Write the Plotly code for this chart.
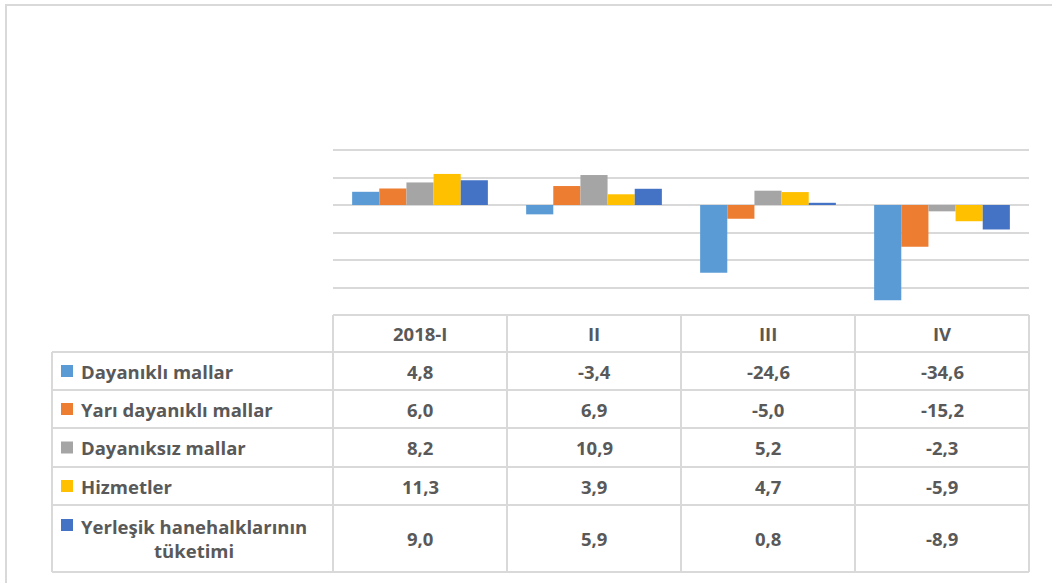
import plotly.graph_objects as go

categories = ["2018-I", "II", "III", "IV"]
series_names = ["Dayanıklı mallar", "Yarı dayanıklı mallar", "Dayanıksız mallar",
                "Hizmetler", "Yerleşik hanehalklarının<br>tüketimi"]
dayanikli = [4.8, -3.4, -24.6, -34.6]
yari_dayanikli = [6.0, 6.9, -5.0, -15.2]
dayaniksiz = [8.2, 10.9, 5.2, -2.3]
hizmetler = [11.3, 3.9, 4.7, -5.9]
yerlesik = [9.0, 5.9, 0.8, -8.9]
series_values = [dayanikli, yari_dayanikli, dayaniksiz, hizmetler, yerlesik]
colors = ["#5B9BD5", "#ED7D31", "#A5A5A5", "#FFC000", "#4472C4"]

W, H = 1052, 583
def px(x): return x / W
def py(y): return 1 - y / H

# layout geometry (pixels)
plot_left, plot_right = 333, 1029
plot_top, plot_bottom = 148.9, 315
label_left = 52
row_edges = [315, 352, 390, 428, 467, 505, 572]
GRID = "#D9D9D9"
TXT = "#595959"
FONT = "Open Sans"
FS = 18.5

fig = go.Figure()
for name, vals, c in zip(series_names, series_values, colors):
    fig.add_trace(go.Bar(x=categories, y=vals, name=name.replace("<br>", " "),
                         marker=dict(color=c, line=dict(width=0))))

shapes = []
annotations = []

# outer frame
shapes.append(dict(type="rect", xref="paper", yref="paper",
                   x0=px(6), x1=px(1060), y0=py(5), y1=py(600),
                   line=dict(color=GRID, width=2)))

# table column edges derived from the category axis
n = len(categories)
col_w = (plot_right - plot_left) / n
col_edges = [plot_left + i * col_w for i in range(n + 1)]

lw = 2
shapes.append(dict(type="line", xref="paper", yref="paper", x0=px(plot_left), x1=px(plot_right),
                   y0=py(row_edges[0]), y1=py(row_edges[0]), line=dict(color=GRID, width=lw)))
for y in row_edges[1:]:
    shapes.append(dict(type="line", xref="paper", yref="paper", x0=px(label_left), x1=px(plot_right),
                       y0=py(y), y1=py(y), line=dict(color=GRID, width=lw)))
shapes.append(dict(type="line", xref="paper", yref="paper", x0=px(label_left), x1=px(label_left),
                   y0=py(row_edges[1]), y1=py(row_edges[-1]), line=dict(color=GRID, width=lw)))
for x in col_edges:
    shapes.append(dict(type="line", xref="paper", yref="paper", x0=px(x), x1=px(x),
                       y0=py(row_edges[0]), y1=py(row_edges[-1]), line=dict(color=GRID, width=lw)))

font = dict(family=FONT, size=FS, color=TXT)

# header
for i, cat in enumerate(categories):
    cx = (col_edges[i] + col_edges[i + 1]) / 2
    cy = (row_edges[0] + row_edges[1]) / 2
    annotations.append(dict(x=px(cx), y=py(cy), xref="paper", yref="paper", text="<b>%s</b>" % cat,
                            showarrow=False, font=font, xanchor="center", yanchor="middle"))

# rows
for r, (name, vals, c) in enumerate(zip(series_names, series_values, colors)):
    y0, y1 = row_edges[r + 1], row_edges[r + 2]
    cy = (y0 + y1) / 2
    multi = "<br>" in name
    key_y = y0 + 20 if multi else cy
    shapes.append(dict(type="rect", xref="paper", yref="paper", x0=px(61), x1=px(73),
                       y0=py(key_y - 6), y1=py(key_y + 6), fillcolor=c, line=dict(width=0)))
    annotations.append(dict(x=px(79), y=py(cy), xref="paper", yref="paper", text="<b>%s</b>" % name,
                            showarrow=False, font=font, xanchor="left", yanchor="middle",
                            align="center"))
    for i, v in enumerate(vals):
        cx = (col_edges[i] + col_edges[i + 1]) / 2
        annotations.append(dict(x=px(cx), y=py(cy), xref="paper", yref="paper",
                                text="<b>%s</b>" % ("%.1f" % v).replace(".", ","),
                                showarrow=False, font=font, xanchor="center", yanchor="middle"))

fig.update_layout(
    width=W, height=H,
    margin=dict(l=0, r=0, t=0, b=0),
    paper_bgcolor="white", plot_bgcolor="white",
    barmode="group", bargap=0.22, bargroupgap=0,
    showlegend=False,
    xaxis=dict(domain=[px(plot_left), px(plot_right)], showticklabels=False, showgrid=False,
               zeroline=False, showline=False, ticks=""),
    yaxis=dict(domain=[py(plot_bottom), py(plot_top)], range=[-40, 20.4], dtick=10,
               showticklabels=False, showgrid=True, gridcolor=GRID, gridwidth=1.5,
               zeroline=True, zerolinecolor=GRID, zerolinewidth=1.5, showline=False, ticks=""),
    shapes=shapes, annotations=annotations,
)

fig.write_html("out.html", config={"displayModeBar": False},
               post_script="document.body.style.margin='0';document.body.style.overflow='hidden';")
